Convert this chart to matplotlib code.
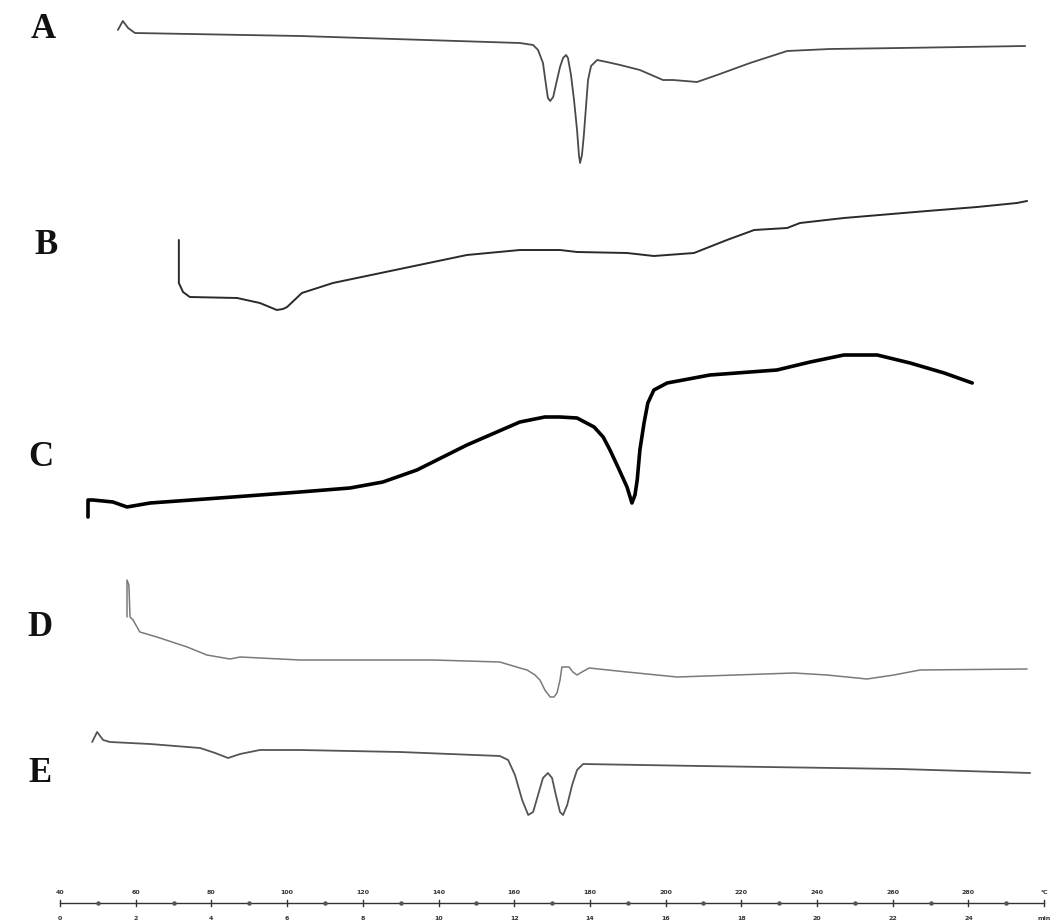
import matplotlib
matplotlib.use("Agg")
import matplotlib.pyplot as plt
import numpy as np

# ---------------- data (temperature in degC, heat-flow signal in arbitrary units, up = exo) -------------
temp_A = [55.3, 56.6, 58.0, 59.8, 103.4, 161.5, 165.0, 166.3, 167.6, 168.4, 168.9, 169.5, 170.3, 171.0,
          172.1, 172.9, 173.7, 174.2, 175.0, 175.8, 176.6, 177.1, 177.4, 177.9, 178.4, 179.0, 179.5,
          180.3, 181.9, 184.5, 188.0, 193.2, 199.3, 202.0, 208.3, 213.6, 222.3, 232.1, 243.4, 261.9, 295.0]
sig_A = [10, 19, 12, 7, 4, -3, -5, -10, -23, -45, -58, -61, -57, -45,
         -27, -18, -15, -18, -35, -60, -90, -115, -123, -115, -95, -65, -40,
         -26, -20, -22, -25, -30, -40, -40, -42, -35, -23, -11, -9, -8, -6]

temp_B = [71.4, 71.4, 72.5, 74.3, 86.8, 92.8, 97.3, 98.9, 100.0, 103.9, 112.1, 129.8, 147.5, 161.5,
          172.1, 176.6, 189.8, 196.9, 207.5, 216.2, 223.4, 232.1, 235.5, 247.1, 269.1, 282.3, 292.8, 295.5]
sig_B = [30, -13, -22, -27, -28, -33, -40, -39, -37, -23, -13, 1, 15, 20,
         20, 18, 17, 14, 17, 30, 40, 42, 47, 52, 59, 63, 67, 69]

temp_C = [47.4, 47.4, 48.7, 54.0, 57.7, 63.8, 85.7, 103.4, 116.6, 125.3, 134.3, 147.5, 161.5, 168.1,
          172.1, 176.6, 181.1, 183.5, 185.3, 187.4, 189.8, 191.1, 191.9, 192.5, 193.2, 194.3, 195.3,
          196.9, 200.4, 211.7, 229.4, 238.2, 247.1, 255.9, 264.6, 273.6, 281.0]
sig_C = [-17, 0, 0, -2, -7, -3, 3, 8, 12, 18, 30, 55, 78, 83,
         83, 82, 73, 63, 50, 33, 13, -3, 5, 20, 50, 77, 97,
         110, 117, 125, 130, 138, 145, 145, 137, 127, 117]

temp_D = [57.7, 57.7, 58.2, 58.5, 59.3, 61.1, 65.6, 73.6, 78.8, 84.9, 87.6, 103.4, 138.5, 156.2, 161.5,
          163.4, 165.5, 166.8, 168.1, 169.5, 170.5, 171.3, 172.1, 172.6, 174.5, 175.5, 176.6, 177.9,
          179.8, 189.8, 203.0, 233.9, 242.6, 253.2, 260.3, 267.2, 295.5]
sig_D = [43, 80, 75, 43, 40, 28, 23, 13, 5, 1, 3, 0, 0, -2, -8,
         -10, -15, -20, -30, -37, -37, -33, -20, -7, -7, -12, -15, -12,
         -8, -12, -17, -13, -15, -19, -15, -10, -9]

temp_E = [48.5, 49.8, 51.4, 53.2, 63.8, 77.0, 81.0, 84.4, 87.6, 92.8, 103.4, 129.8, 156.2, 158.4,
          160.2, 162.1, 163.7, 165.0, 166.3, 167.6, 168.9, 170.0, 171.0, 172.1, 172.9, 174.0, 175.3,
          176.6, 178.2, 209.1, 261.9, 296.3]
sig_E = [8, 18, 10, 8, 6, 2, -3, -8, -4, 0, 0, -2, -6, -10,
         -25, -50, -65, -62, -45, -28, -23, -28, -45, -62, -65, -55, -35,
         -20, -14, -16, -19, -23]

curve_labels = ["A", "B", "C", "D", "E"]
temp_ticks = [40, 60, 80, 100, 120, 140, 160, 180, 200, 220, 240, 260, 280]
time_ticks = ["0", "2", "4", "6", "8", "10", "12", "14", "16", "18", "20", "22", "24"]

# ---------------- layout / style -------------
baselines = {"A": 40, "B": 270, "C": 500, "D": 660, "E": 750}
styles = {
    "A": dict(color="#4a4a4a", lw=1.3),
    "B": dict(color="#2a2a2a", lw=1.4),
    "C": dict(color="#000000", lw=2.6),
    "D": dict(color="#7a7a7a", lw=1.1),
    "E": dict(color="#555555", lw=1.3),
}
label_pos = {"A": (35.5, 30), "B": (36.3, 246), "C": (35.0, 457), "D": (34.7, 627), "E": (34.7, 773)}

data = {"A": (temp_A, sig_A), "B": (temp_B, sig_B), "C": (temp_C, sig_C),
        "D": (temp_D, sig_D), "E": (temp_E, sig_E)}

fig = plt.figure(figsize=(10.57, 9.24), dpi=100)
ax = fig.add_axes([0, 0, 1, 1])
ax.set_xlim(24.15, 303.4)
ax.set_ylim(924, 0)
ax.axis("off")

for name in curve_labels:
    t, s = data[name]
    y = baselines[name] - np.asarray(s, dtype=float)
    ax.plot(t, y, solid_joinstyle="round", solid_capstyle="round", **styles[name])
    lx, ly = label_pos[name]
    ax.text(lx, ly, name, family="Liberation Serif", fontweight="bold", fontsize=25,
            ha="center", va="center", color="#111111")

# ---------------- bottom temperature / time scale -------------
axis_y = 903
ax.plot([temp_ticks[0], 300], [axis_y, axis_y], color="#333333", lw=1.0)
for i, T in enumerate(temp_ticks + [300]):
    ax.plot([T, T], [axis_y - 3, axis_y + 3], color="#333333", lw=1.0)
    top = str(temp_ticks[i]) if i < len(temp_ticks) else "°C"
    bot = time_ticks[i] if i < len(time_ticks) else "min"
    ax.text(T, axis_y - 10, top, fontsize=4.5, ha="center", va="center", color="#333333",
            fontweight="bold")
    ax.text(T, axis_y + 15, bot, fontsize=4.5, ha="center", va="center", color="#333333",
            fontweight="bold")
for T in np.array(temp_ticks) + 10:
    ax.plot([T], [axis_y], marker="o", ms=2.2, color="#555555")

fig.savefig("out.png", dpi=100, facecolor="white")
